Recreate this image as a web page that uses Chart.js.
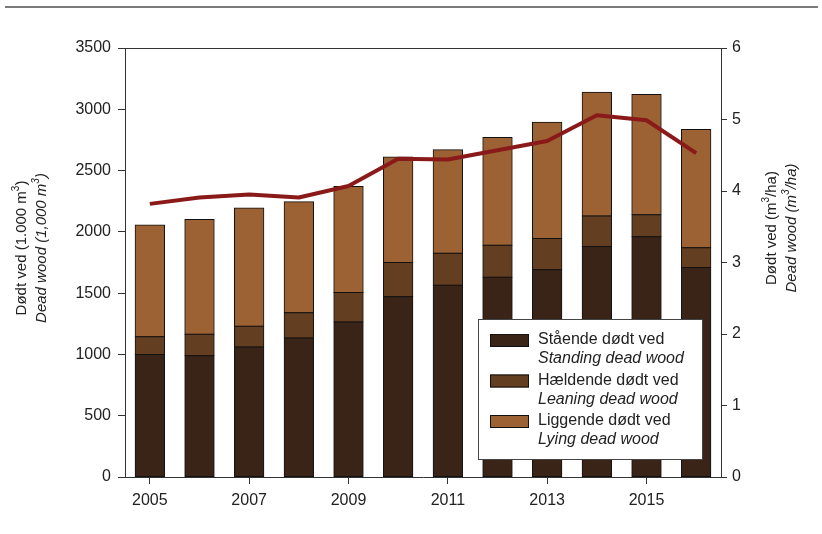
<!DOCTYPE html>
<html>
<head>
<meta charset="utf-8">
<script src="https://cdn.jsdelivr.net/npm/chart.js@4"></script>
<style>
  html, body { margin: 0; padding: 0; background: #fff; }
  #wrap { width: 822px; height: 534px; position: relative; }
</style>
</head>
<body>
<div id="wrap"><canvas id="deadWood" width="822" height="534"></canvas></div>
<script>
// Dead wood volume by type (1,000 m3) and density (m3/ha)
const years = ['2005', '2006', '2007', '2008', '2009', '2010', '2011', '2012', '2013', '2014', '2015', '2016'];
const standing = [1000, 990, 1060, 1135, 1265, 1470, 1565, 1630, 1690, 1880, 1960, 1710];
const leaning = [145, 175, 170, 205, 240, 280, 260, 260, 255, 250, 180, 160];
const lying = [910, 935, 965, 905, 865, 860, 845, 880, 950, 1010, 980, 965];
const perHectare = [3.82, 3.91, 3.95, 3.91, 4.07, 4.45, 4.44, 4.57, 4.70, 5.06, 4.99, 4.53];

const legendLines = [
    ['Stående dødt ved', 'Standing dead wood'],
    ['Hældende dødt ved', 'Leaning dead wood'],
    ['Liggende dødt ved', 'Lying dead wood']
];

const FONT = '"Liberation Sans", Arial, sans-serif';
const AXIS_COLOR = '#333';

// draw a line of text made of pieces, some raised as superscript
function drawPieces(ctx, pieces, cx, cy, italic) {
    const style = italic ? 'italic ' : '';
    let total = 0;
    pieces.forEach(p => {
        ctx.font = style + (p.sup ? '10px ' : '15px ') + FONT;
        p.w = ctx.measureText(p.t).width;
        total += p.w;
    });
    let x = cx - total / 2;
    pieces.forEach(p => {
        ctx.font = style + (p.sup ? '10px ' : '15px ') + FONT;
        ctx.fillText(p.t, x, p.sup ? cy - 6 : cy);
        x += p.w;
    });
}

const decorations = {
    id: 'decorations',
    afterDraw(chart) {
        const ctx = chart.ctx;
        const area = chart.chartArea;
        ctx.save();

        // rule across the top of the page
        ctx.fillStyle = '#7a7a7a';
        ctx.fillRect(5, 6, 813, 2);

        // top of the frame
        ctx.strokeStyle = AXIS_COLOR;
        ctx.lineWidth = 1;
        ctx.beginPath();
        ctx.moveTo(area.left, area.top + 0.5);
        ctx.lineTo(area.right, area.top + 0.5);
        ctx.stroke();

        ctx.fillStyle = '#222';
        ctx.textBaseline = 'middle';
        ctx.textAlign = 'left';

        // left axis title
        ctx.save();
        ctx.translate(22, 248);
        ctx.rotate(-Math.PI / 2);
        drawPieces(ctx, [{t: 'Dødt ved (1.000 m'}, {t: '3', sup: true}, {t: ')'}], 0, 0, false);
        drawPieces(ctx, [{t: 'Dead wood (1,000 m'}, {t: '3', sup: true}, {t: ')'}], 0, 20, true);
        ctx.restore();

        // right axis title
        ctx.save();
        ctx.translate(772, 228);
        ctx.rotate(-Math.PI / 2);
        drawPieces(ctx, [{t: 'Dødt ved (m'}, {t: '3', sup: true}, {t: '/ha)'}], 0, 0, false);
        drawPieces(ctx, [{t: 'Dead wood (m'}, {t: '3', sup: true}, {t: '/ha)'}], 0, 20, true);
        ctx.restore();

        // legend box
        const lx = 478, ly = 319;
        ctx.fillStyle = '#fff';
        ctx.fillRect(lx, ly, 224, 140);
        ctx.strokeStyle = '#444';
        ctx.strokeRect(lx + 0.5, ly + 0.5, 224, 140);

        legendLines.forEach((lines, i) => {
            const y = ly + 21 + i * 40.5;
            ctx.fillStyle = chart.data.datasets[i].backgroundColor;
            ctx.fillRect(lx + 12, y - 6, 39, 13);
            ctx.strokeStyle = '#111';
            ctx.strokeRect(lx + 12.5, y - 5.5, 38, 12);
            ctx.fillStyle = '#222';
            ctx.font = '16px ' + FONT;
            ctx.fillText(lines[0], lx + 60, y);
            ctx.font = 'italic 16px ' + FONT;
            ctx.fillText(lines[1], lx + 60, y + 19);
        });

        ctx.restore();
    }
};

function barSet(label, data, color) {
    return {
        type: 'bar',
        label: label,
        data: data,
        backgroundColor: color,
        borderColor: '#111',
        borderWidth: 1,
        borderSkipped: false,
        inflateAmount: 0.5,
        barPercentage: 0.59,
        categoryPercentage: 1,
        yAxisID: 'y',
        stack: 'wood',
        order: 2
    };
}

new Chart(document.getElementById('deadWood'), {
    data: {
        labels: years,
        datasets: [
            barSet('Standing dead wood', standing, '#3a2417'),
            barSet('Leaning dead wood', leaning, '#643e21'),
            barSet('Lying dead wood', lying, '#9c6233'),
            {
                type: 'line',
                label: 'Dead wood per ha',
                data: perHectare,
                borderColor: '#8a1a1a',
                borderWidth: 4,
                tension: 0,
                pointRadius: 0,
                borderJoinStyle: 'round',
                yAxisID: 'y1',
                order: 1
            }
        ]
    },
    options: {
        responsive: false,
        animation: false,
        layout: { padding: { top: 48, left: 0, right: 0, bottom: 0 } },
        plugins: {
            legend: { display: false },
            tooltip: { enabled: false }
        },
        scales: {
            x: {
                stacked: true,
                offset: true,
                grid: {
                    offset: false,
                    drawOnChartArea: false,
                    tickLength: 7,
                    color: ctx => (ctx.index % 2 === 0 ? AXIS_COLOR : 'rgba(0,0,0,0)')
                },
                border: { color: AXIS_COLOR, width: 1 },
                ticks: {
                    autoSkip: false,
                    maxRotation: 0,
                    padding: 7,
                    color: '#222',
                    font: { family: FONT, size: 16 },
                    callback: function(value, index) {
                        return index % 2 === 0 ? this.getLabelForValue(value) : '';
                    }
                },
                afterFit: scale => { scale.height = 57; }
            },
            y: {
                stacked: true,
                position: 'left',
                min: 0,
                max: 3500,
                grid: { drawOnChartArea: false, tickLength: 7, color: AXIS_COLOR },
                border: { color: AXIS_COLOR, width: 1 },
                ticks: {
                    stepSize: 500,
                    padding: 7,
                    color: '#222',
                    font: { family: FONT, size: 16 },
                    callback: value => String(value)
                },
                afterFit: scale => { scale.width = 125; }
            },
            y1: {
                position: 'right',
                min: 0,
                max: 6,
                grid: { drawOnChartArea: false, tickLength: 6, color: AXIS_COLOR },
                border: { color: AXIS_COLOR, width: 1 },
                ticks: {
                    stepSize: 1,
                    padding: 5,
                    color: '#222',
                    font: { family: FONT, size: 16 },
                    callback: value => String(value)
                },
                afterFit: scale => { scale.width = 101; }
            }
        }
    },
    plugins: [decorations]
});
</script>
</body>
</html>
